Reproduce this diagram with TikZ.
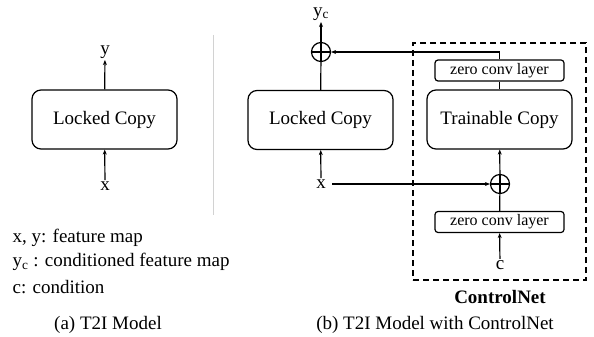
\documentclass[tikz,border=0pt]{standalone}
\usepackage{fontspec}
\setmainfont{Liberation Serif}
\usetikzlibrary{arrows.meta}

\begin{document}
\begin{tikzpicture}[x=1pt,y=-1pt,>={Stealth[length=5pt,width=4pt]},line width=1.2pt,
  font=\fontsize{19}{22}\selectfont,
  block/.style={draw,rounded corners=9pt,minimum width=145pt,minimum height=59pt},
  zconv/.style={draw,rounded corners=3pt,minimum width=129pt,minimum height=21pt,inner sep=1pt,font=\fontsize{16}{18}\selectfont},
  plus/.style={draw,circle,minimum size=19pt,inner sep=0pt,
    path picture={\draw (path picture bounding box.north) -- (path picture bounding box.south)
      (path picture bounding box.west) -- (path picture bounding box.east);}},
  lbl/.style={inner sep=1pt}]
\useasboundingbox (0,0) rectangle (594,337);
% (a) plain model
\node[block] (lock1) at (104.5,119.5) {Locked Copy};
\node[lbl] (y1) at (105,52) {y};
\node[lbl] (x1) at (105,186) {x};
\draw[->] (x1) -- (lock1);
\draw[->] (lock1) -- (y1);
\draw[gray!35,line width=1pt] (213,35) -- (213,215);
% (b) with the control branch
\node[block] (lock2) at (320.5,120) {Locked Copy};
\node[plus] (sum1) at (321,52) {};
\node[lbl] (yc) at (321,14) {y\textsubscript{c}};
\node[lbl] (x2) at (321,184) {x};
\node[zconv] (zc1) at (499.5,70.5) {zero conv layer};
\node[block] (train) at (499.5,119.5) {Trainable Copy};
\node[plus] (sum2) at (500,184) {};
\node[zconv] (zc2) at (499.5,222) {zero conv layer};
\node[lbl] (c) at (500,265) {c};
\draw (lock2) -- (sum1);
\draw[->] (sum1) -- (yc);
\draw[->] (x2) -- (lock2);
\draw[->] (zc1.north) |- (sum1.east);
\draw (zc1) -- (train);
\draw[->] (sum2) -- (train);
\draw (zc2) -- (sum2);
\draw[->] (c) -- (zc2);
\draw[->,shorten <=5pt] (x2) -- (sum2);
\node[draw,dash pattern=on 6pt off 4pt,minimum width=173pt,minimum height=237pt] (cnet) at (499.5,161.5) {};
\node[font=\bfseries\fontsize{19}{22}\selectfont] (cnetname) at (500,297) {ControlNet};
% legend and captions
\node[anchor=west,inner sep=0pt] (leg1) at (12,238) {x, y: feature map};
\node[anchor=west,inner sep=0pt] (leg2) at (12,262) {y\textsubscript{c} : conditioned feature map};
\node[anchor=west,inner sep=0pt] (leg3) at (12,287) {c: condition};
\node (capa) at (108,325) {(a) T2I Model};
\node (capb) at (435,325) {(b) T2I Model with ControlNet};
\end{tikzpicture}
\end{document}
